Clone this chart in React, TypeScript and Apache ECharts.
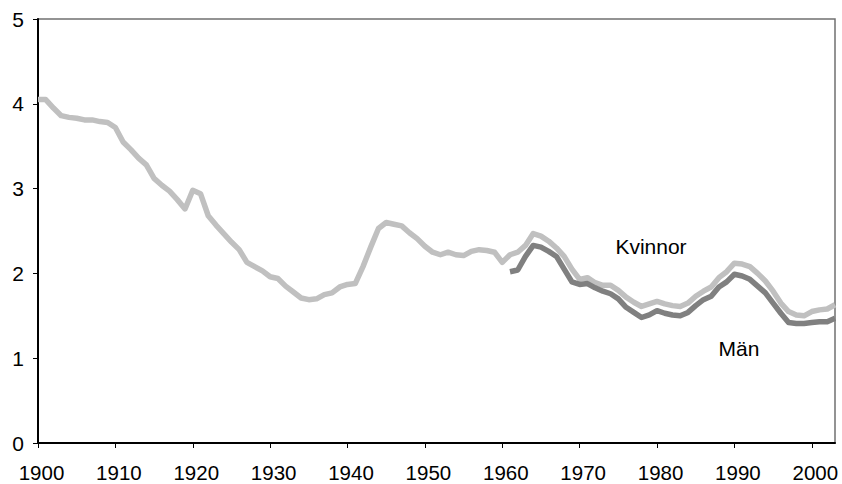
import React, { useEffect, useRef } from "react";
import * as echarts from "echarts";

// Kvinnor (all years 1900–2003)
const kvinnorStart = 1900;
const kvinnor = [
  4.05, 4.05, 3.95, 3.86, 3.84, 3.83, 3.81, 3.81, 3.79, 3.78,
  3.72, 3.55, 3.46, 3.36, 3.28, 3.12, 3.04, 2.97, 2.87, 2.76,
  2.98, 2.94, 2.68, 2.57, 2.47, 2.37, 2.28, 2.13, 2.08, 2.03,
  1.96, 1.94, 1.85, 1.78, 1.71, 1.69, 1.70, 1.75, 1.77, 1.84,
  1.87, 1.88, 2.08, 2.31, 2.53, 2.60, 2.58, 2.56, 2.48, 2.41,
  2.32, 2.25, 2.22, 2.25, 2.22, 2.21, 2.26, 2.28, 2.27, 2.25,
  2.13, 2.22, 2.25, 2.33, 2.47, 2.44, 2.38, 2.30, 2.20, 2.05,
  1.93, 1.95, 1.89, 1.86, 1.86, 1.80, 1.72, 1.66, 1.61, 1.64,
  1.67, 1.64, 1.62, 1.61, 1.65, 1.73, 1.79, 1.84, 1.95, 2.02,
  2.12, 2.11, 2.08, 2.00, 1.91, 1.79, 1.65, 1.55, 1.51, 1.50,
  1.55, 1.57, 1.58, 1.63,
];

// Män (1961–2003)
const manStart = 1961;
const man = [
  2.02, 2.04, 2.20, 2.33, 2.31, 2.26, 2.20, 2.05, 1.90,
  1.87, 1.88, 1.83, 1.79, 1.76, 1.70, 1.60, 1.54, 1.48, 1.51,
  1.56, 1.53, 1.51, 1.50, 1.54, 1.62, 1.69, 1.73, 1.84, 1.90,
  1.99, 1.97, 1.93, 1.85, 1.77, 1.65, 1.53, 1.42, 1.41, 1.41,
  1.42, 1.43, 1.43, 1.47,
];

const xTicks = [1900, 1910, 1920, 1930, 1940, 1950, 1960, 1970, 1980, 1990, 2000];
const yTicks = [0, 1, 2, 3, 4, 5];

const FONT = "'Liberation Sans', Arial, Helvetica, sans-serif";

export default function App() {
  const ref = useRef<HTMLDivElement>(null);

  useEffect(() => {
    if (!ref.current) return;
    const chart = echarts.init(ref.current, null, { renderer: "svg" });
    const kvData = kvinnor.map((v, i) => [kvinnorStart + i, v]);
    const mnData = man.map((v, i) => [manStart + i, v]);

    chart.setOption({
      animation: false,
      backgroundColor: "#ffffff",
      grid: {
        left: 38,
        right: 7,
        top: 19,
        bottom: 41,
        containLabel: false,
        outerBoundsMode: "none",
        show: true,
        borderColor: "#707070",
        borderWidth: 1.5,
      },
      xAxis: {
        type: "value",
        min: 1900,
        max: 2003,
        interval: 10,
        splitLine: { show: false },
        axisLine: { show: true, onZero: false, lineStyle: { color: "#000", width: 2 } },
        axisTick: {
          show: true,
          length: 5,
          customValues: xTicks,
          lineStyle: { color: "#000", width: 1 },
        },
        axisLabel: {
          customValues: xTicks,
          margin: 19,
          color: "#000",
          fontSize: 20.5,
          fontFamily: FONT,
          padding: [0, 0, 0, 7],
          formatter: (v: number) => String(v),
        },
      },
      yAxis: {
        type: "value",
        min: 0,
        max: 5,
        interval: 1,
        splitLine: { show: false },
        axisLine: { show: true, lineStyle: { color: "#000", width: 2 } },
        axisTick: { show: true, length: 5, lineStyle: { color: "#000", width: 1 } },
        axisLabel: {
          margin: 14,
          color: "#000",
          fontSize: 21,
          fontFamily: FONT,
          formatter: (v: number) => (yTicks.includes(v) ? String(v) : ""),
        },
      },
      series: [
        {
          name: "Kvinnor",
          type: "line",
          data: kvData,
          showSymbol: false,
          lineStyle: { color: "#c0c0c0", width: 5.5, join: "round", cap: "butt" },
          z: 2,
        },
        {
          name: "Män",
          type: "line",
          data: mnData,
          showSymbol: false,
          lineStyle: { color: "#808080", width: 5.5, join: "round", cap: "butt" },
          z: 3,
        },
      ],
      graphic: [
        {
          type: "text",
          x: 651,
          y: 246,
          style: {
            text: "Kvinnor",
            fill: "#000",
            fontSize: 21,
            fontFamily: FONT,
            textAlign: "center",
            textVerticalAlign: "middle",
          },
        },
        {
          type: "text",
          x: 739,
          y: 348,
          style: {
            text: "Män",
            fill: "#000",
            fontSize: 21,
            fontFamily: FONT,
            textAlign: "center",
            textVerticalAlign: "middle",
          },
        },
      ],
    });

    return () => chart.dispose();
  }, []);

  return <div ref={ref} style={{ width: 842, height: 484, position: "absolute", left: 0, top: 0 }} />;
}
